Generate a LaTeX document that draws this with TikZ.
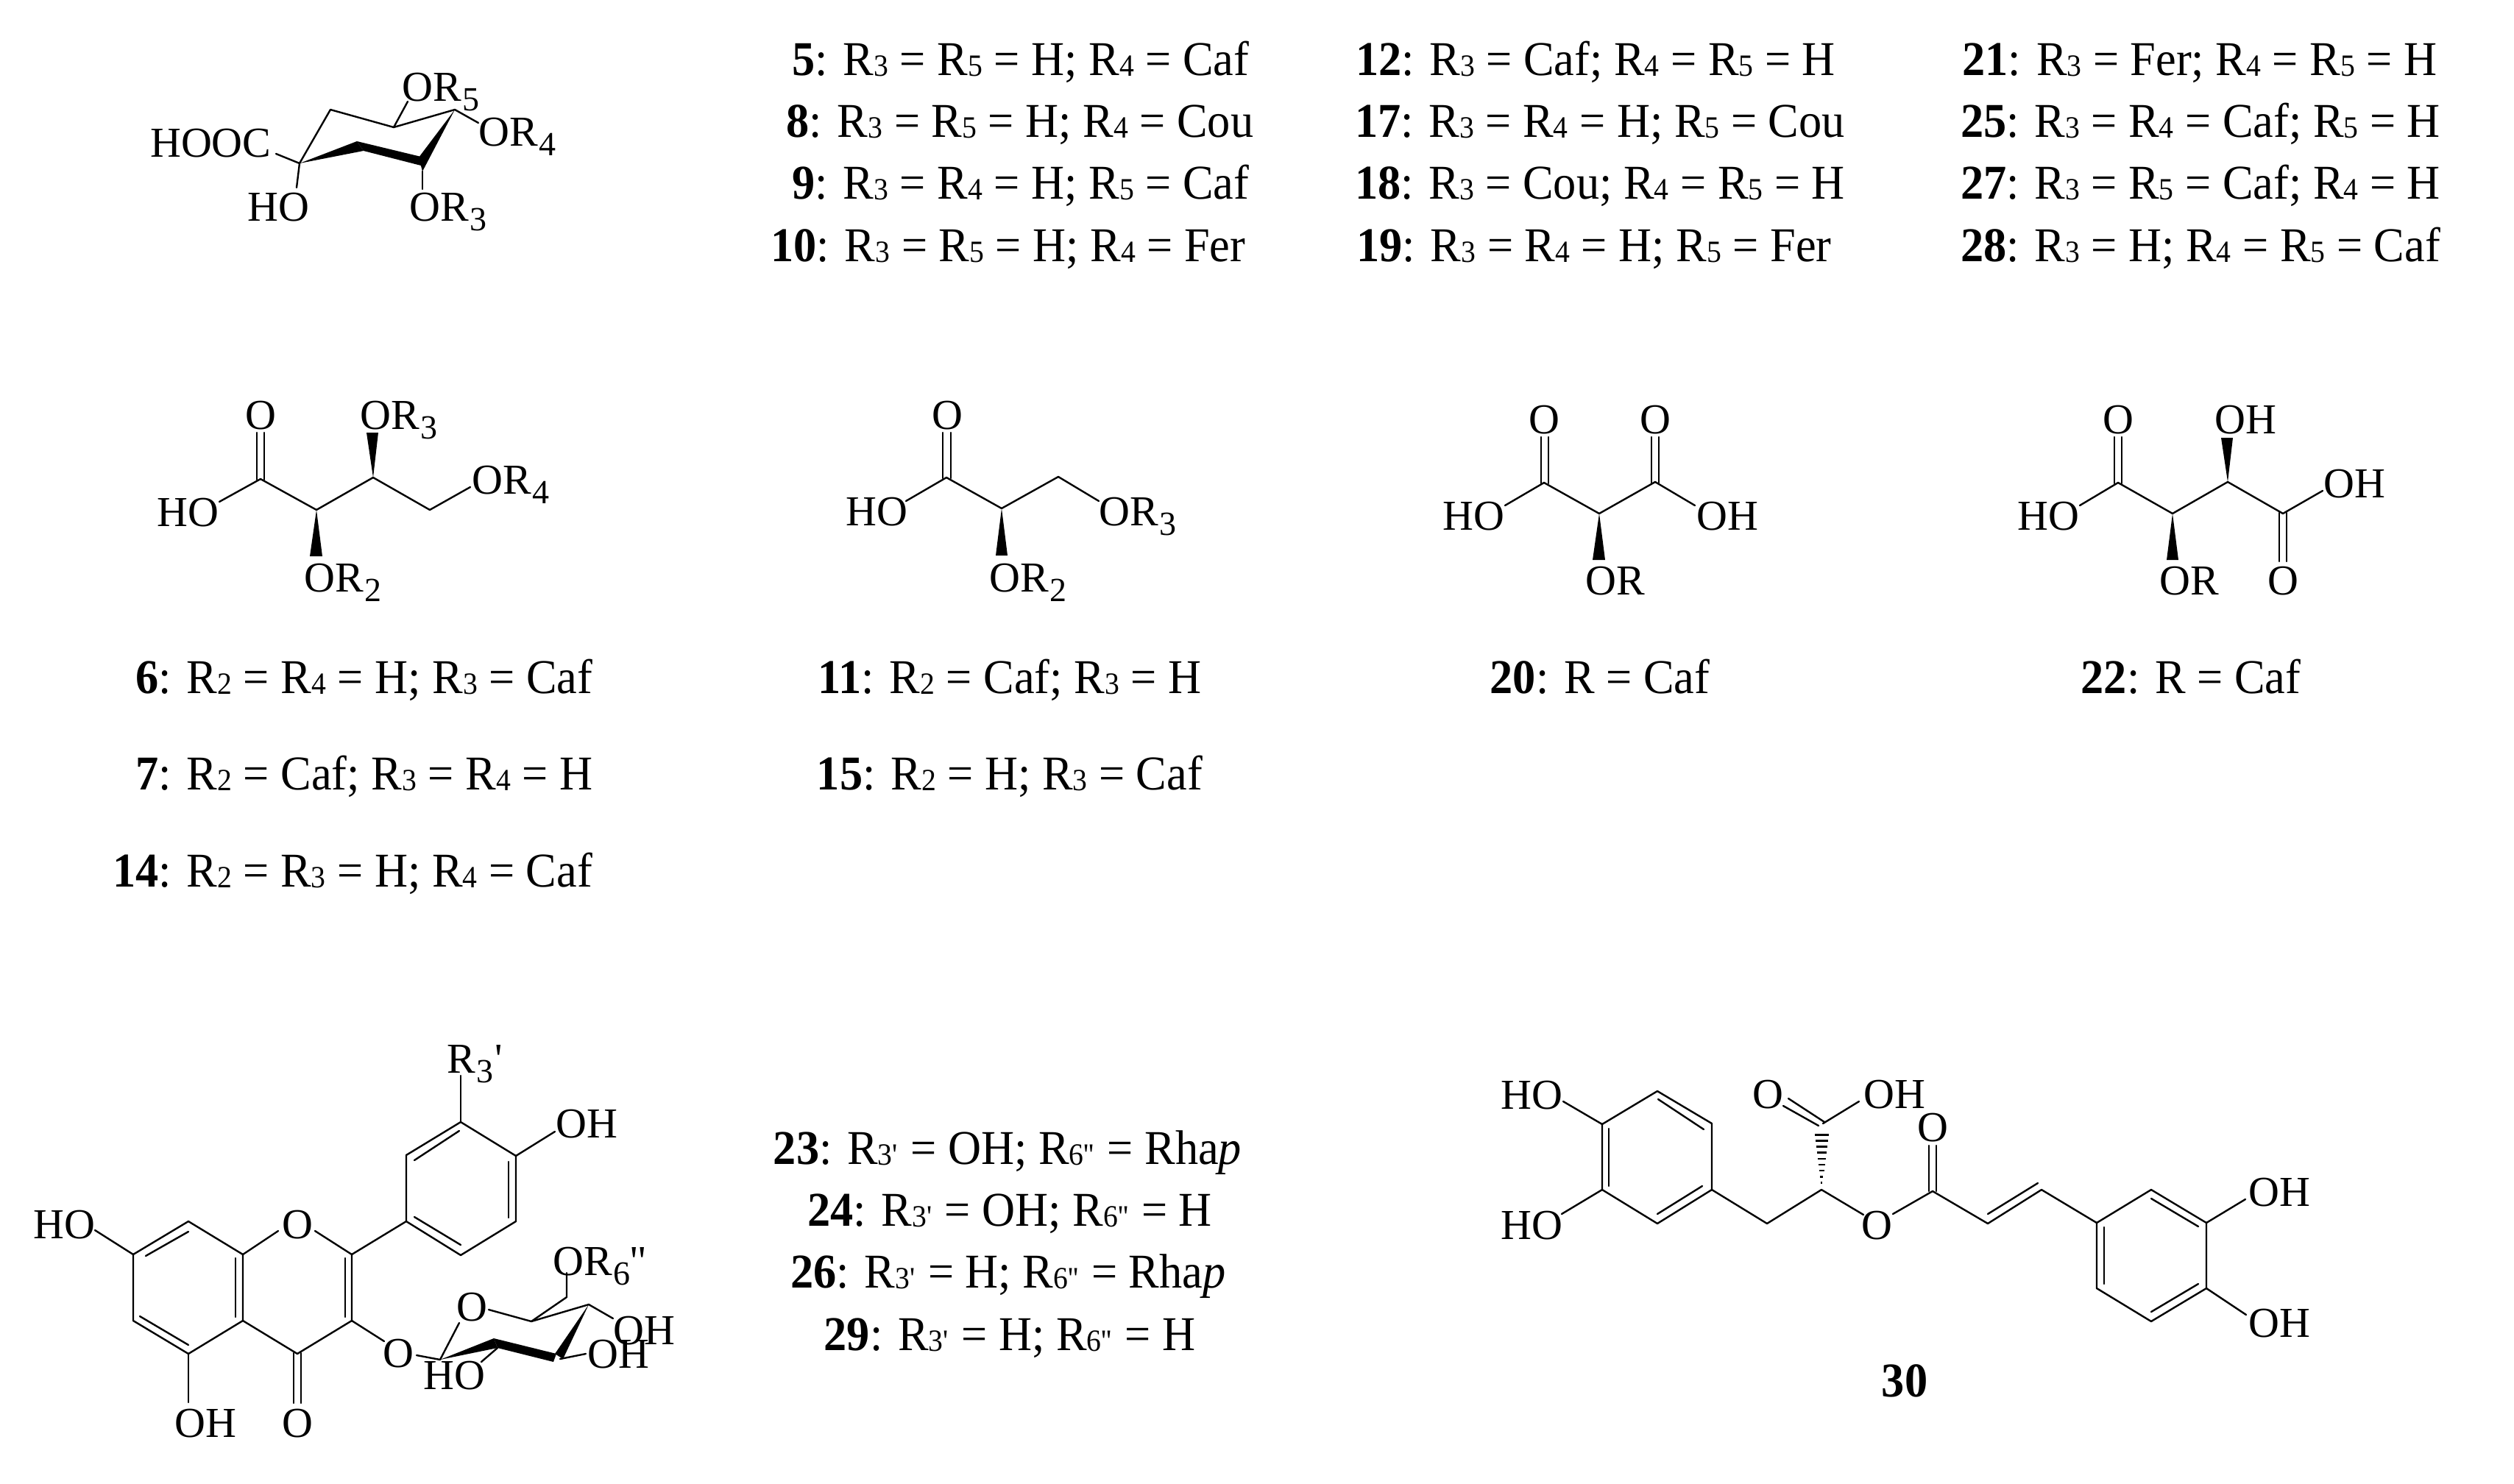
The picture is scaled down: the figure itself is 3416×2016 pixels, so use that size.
\documentclass[tikz,border=0pt]{standalone}
\usepackage{fontspec}
\usetikzlibrary{calc}
\newfontfamily\chemfont{Liberation Serif}
\newfontfamily\rowfont[FakeStretch=0.945]{Liberation Serif}
\newcommand{\cs}[1]{\kern2pt\raisebox{-13pt}{\fontsize{46}{46}\selectfont #1}} % subscript in a structure
\newcommand{\rr}[1]{R\raisebox{-1pt}{\fontsize{42}{42}\selectfont #1}} % R with its small index in a row
\tikzset{
x=1pt, y=-1pt, % one unit is one pixel of the reference
bond/.style={line width=2.4pt, line cap=round, line join=round}, % a plain bond
wedge/.style={fill=black, draw=none}, % a solid wedge bond
atom/.style={inner sep=0pt, anchor=base west, font=\chemfont\fontsize{58}{60}\selectfont}, % atom label from its left edge
atomc/.style={atom, anchor=base}, % atom label centred on the bond
row/.style={inner sep=0pt, anchor=base, font=\rowfont\fontsize{66}{70}\selectfont}, % one line of substituents
}
\begin{document}
\begin{tikzpicture}
    \useasboundingbox (0,0) rectangle (3416,2016);

    % quinic acid
    \foreach \n/\x/\y in {q1/407/222, q2/449/149, q3/535/173, q4/618/149, q5/485/192, q6/494/205,
        q7/572/213, q8/572/225, q9/569/214, q10/574/233, qa/375/209, qb/403/255, qc/554/138, qd/650/167, qe/574/257}
        \coordinate (\n) at (\x,\y);
    \draw[bond] (qa) -- (q1) -- (q2) -- (q3) -- (q4) -- (qd);
    \draw[bond] (q1) -- (qb);
    \draw[bond] (q3) -- (qc);
    \draw[bond] (q10) -- (qe);
    \fill[wedge] (q1) -- (q5) -- (q6) -- cycle;
    \fill[wedge] (q5) -- (q6) -- (q8) -- (q7) -- cycle;
    \fill[wedge] (q4) -- (q9) -- (q10) -- cycle;
    \node[atom] (qhooc) at (204,213) {HOOC};
    \node[atom] (qho) at (336,300) {HO};
    \node[atom] (qor5) at (546,137) {OR\cs{5}};
    \node[atom] (qor4) at (650,198) {OR\cs{4}};
    \node[atom] (qor3) at (556,300) {OR\cs{3}};

    % tetraric chain
    \foreach \n/\x/\y in {b1/354/651, b2/430/693, b3/507/649, b4/584/693, ba/298/682, bb/349/652, bc/359/652,
        bd/349/588, be/359/588, bf/421/756, bg/438/756, bh/498/588, bi/514/588, bj/639/662}
        \coordinate (\n) at (\x,\y);
    \draw[bond] (ba) -- (b1) -- (b2) -- (b3) -- (b4) -- (bj);
    \draw[bond] (bb) -- (bd);
    \draw[bond] (bc) -- (be);
    \fill[wedge] (b2) -- (bf) -- (bg) -- cycle;
    \fill[wedge] (b3) -- (bh) -- (bi) -- cycle;
    \node[atomc] (bo) at (354,583) {O};
    \node[atom] (bho) at (213,715) {HO};
    \node[atom] (bor3) at (489,583) {OR\cs{3}};
    \node[atom] (bor4) at (641,671) {OR\cs{4}};
    \node[atom] (bor2) at (413,804) {OR\cs{2}};

    % glyceric chain
    \foreach \n/\x/\y in {c1/1286/649, c2/1361/691, c3/1438/648, ca/1231/681, cb/1493/681, cc/1281/650, cd/1292/650,
        ce/1281/588, cf/1292/588, cg/1353/755, ch/1369/755}
        \coordinate (\n) at (\x,\y);
    \draw[bond] (ca) -- (c1) -- (c2) -- (c3) -- (cb);
    \draw[bond] (cc) -- (ce);
    \draw[bond] (cd) -- (cf);
    \fill[wedge] (c2) -- (cg) -- (ch) -- cycle;
    \node[atomc] (co) at (1287,583) {O};
    \node[atom] (cho) at (1149,714) {HO};
    \node[atom] (cor3) at (1493,714) {OR\cs{3}};
    \node[atom] (cor2) at (1344,804) {OR\cs{2}};

    % tartronic ester
    \foreach \n/\x/\y in {d1/2098/656, d2/2173/698, d3/2249/655, da/2045/687, db/2303/687, dc/2094/657, dd/2104/657,
        de/2094/594, df/2104/594, dg/2244/656, dh/2254/656, di/2244/594, dj/2254/594, dk/2164/761, dl/2181/761}
        \coordinate (\n) at (\x,\y);
    \draw[bond] (da) -- (d1) -- (d2) -- (d3) -- (db);
    \draw[bond] (dc) -- (de);
    \draw[bond] (dd) -- (df);
    \draw[bond] (dg) -- (di);
    \draw[bond] (dh) -- (dj);
    \fill[wedge] (d2) -- (dk) -- (dl) -- cycle;
    \node[atomc] (do1) at (2098,589) {O};
    \node[atomc] (do2) at (2249,589) {O};
    \node[atom] (dho) at (1960,720) {HO};
    \node[atom] (doh) at (2305,720) {OH};
    \node[atom] (dor) at (2154,808) {OR};

    % tartaric ester
    \foreach \n/\x/\y in {e1/2878/656, e2/2952/698, e3/3027/655, e4/3102/698, ea/2826/687, eb/3156/667,
        ec/2873/657, ed/2883/657, ee/2873/594, ef/2883/594, eg/3097/697, eh/3107/697, ei/3097/763, ej/3107/763,
        ek/2944/761, el/2960/761, em/3018/595, en/3034/595}
        \coordinate (\n) at (\x,\y);
    \draw[bond] (ea) -- (e1) -- (e2) -- (e3) -- (e4) -- (eb);
    \draw[bond] (ec) -- (ee);
    \draw[bond] (ed) -- (ef);
    \draw[bond] (eg) -- (ei);
    \draw[bond] (eh) -- (ej);
    \fill[wedge] (e2) -- (ek) -- (el) -- cycle;
    \fill[wedge] (e3) -- (em) -- (en) -- cycle;
    \node[atomc] (eo1) at (2878,589) {O};
    \node[atom] (eoh1) at (3009,589) {OH};
    \node[atom] (eoh2) at (3157,676) {OH};
    \node[atom] (eho) at (2741,720) {HO};
    \node[atom] (eor) at (2934,808) {OR};
    \node[atomc] (eo2) at (3102,808) {O};

    % flavonol skeleton
    \foreach \n/\x/\y in {f7/181/1705, f8/256/1660, f9/330/1705, f10/330/1795, f5/256/1840, f6/181/1795,
        f1l/378/1673, f1r/428/1673, f2/478/1705, f3/478/1795, f4/404/1840,
        g1/552/1660, g2/552/1570, g3/626/1525, g4/701/1571, g5/701/1660, g6/626/1706,
        fa/626/1462, fb/754/1538, fc/129/1672, fd/256/1906, fe/399/1839, ff/409/1839, fg/399/1907, fh/409/1907, fi/522/1823,
        ia/198/1707, ib/256/1674, ic/190/1789, id/256/1828, ie/320/1710, if/320/1790, ig/469/1710, ih/469/1790,
        ii/563/1577, ij/624/1537, ik/691/1579, il/691/1655, im/563/1654, in/626/1692}
        \coordinate (\n) at (\x,\y);
    \draw[bond] (f7) -- (f8) -- (f9) -- (f10) -- (f5) -- (f6) -- (f7);
    \draw[bond] (f9) -- (f1l);
    \draw[bond] (f1r) -- (f2) -- (f3) -- (f4) -- (f10);
    \draw[bond] (f2) -- (g1) -- (g2) -- (g3) -- (g4) -- (g5) -- (g6) -- (g1);
    \draw[bond] (g3) -- (fa);
    \draw[bond] (g4) -- (fb);
    \draw[bond] (f7) -- (fc);
    \draw[bond] (f5) -- (fd);
    \draw[bond] (fe) -- (fg);
    \draw[bond] (ff) -- (fh);
    \draw[bond] (f3) -- (fi);
    \foreach \s/\t in {ia/ib, ic/id, ie/if, ig/ih, ii/ij, ik/il, im/in}
        \draw[bond] (\s) -- (\t);
    \node[atom] (fr3) at (607,1458) {R\cs{3}\kern2pt'};
    \node[atom] (foh4) at (755,1546) {OH};
    \node[atom] (fho7) at (45,1683) {HO};
    \node[atomc] (fo1) at (404,1683) {O};
    \node[atom] (foh5) at (237,1953) {OH};
    \node[atomc] (fo4) at (404,1953) {O};
    \node[atomc] (fo3) at (541,1858) {O};

    % sugar
    \foreach \n/\x/\y in {s1/598/1848, sa/566/1842, s2/624/1798, s3/671/1819, s4/676/1832, s5/756/1840, s6/752/1851,
        s7/754/1840, s8/765/1847, s9/800/1773, s10/664/1780, s11/722/1796, s12/770/1763, s13/770/1730,
        s14/833/1792, s15/761/1847, s16/796/1840, s17/654/1851}
        \coordinate (\n) at (\x,\y);
    \draw[bond] (sa) -- (s1) -- (s2);
    \draw[bond] (s10) -- (s11) -- (s9) -- (s14);
    \draw[bond] (s11) -- (s12) -- (s13);
    \draw[bond] (s15) -- (s16);
    \draw[bond] (s4) -- (s17);
    \fill[wedge] (s1) -- (s3) -- (s4) -- cycle;
    \fill[wedge] (s3) -- (s4) -- (s6) -- (s5) -- cycle;
    \fill[wedge] (s9) -- (s7) -- (s8) -- cycle;
    \node[atomc] (so) at (641,1795) {O};
    \node[atom] (sho) at (575,1888) {HO};
    \node[atom] (soh2) at (798,1859) {OH};
    \node[atom] (soh3) at (833,1827) {OH};
    \node[atom] (sor) at (751,1733) {OR\cs{6}''};

    % rosmarinic acid
    \foreach \n/\x/\y in {r1/2252/1483, r2/2326/1527, r3/2326/1617, r4/2252/1663, r5/2177/1617, r6/2177/1528,
        r7/2401/1663, r8/2475/1617, r9/2626/1619, r10/2701/1663, r11/2774/1617,
        t1/2849/1662, t2/2923/1617, t3/2998/1662, t4/2998/1751, t5/2923/1796, t6/2849/1751,
        ra/2124/1497, rb/2122/1650, rc/2532/1651, rd/2572/1650, re/2621/1619, rf/2631/1619, rg/2621/1557, rh/2631/1557,
        ri/3051/1630, rj/3052/1787, rk/2477/1527, rl/2526/1497, rm/2423/1503, rn/2471/1530, ro/2430/1493, rp/2479/1525,
        rq/2465/1536, rr/2486/1536,
        ua/2253/1494, ub/2315/1535, uc/2186/1534, ud/2186/1612, ue/2252/1650, uf/2313/1612, ug/2701/1650, uh/2769/1608,
        ui/2923/1629, uj/2987/1667, uk/2987/1745, ul/2923/1783, um/2859/1745, un/2859/1668}
        \coordinate (\n) at (\x,\y);
    \draw[bond] (r1) -- (r2) -- (r3) -- (r4) -- (r5) -- (r6) -- (r1);
    \draw[bond] (r6) -- (ra);
    \draw[bond] (r5) -- (rb);
    \draw[bond] (r3) -- (r7) -- (r8) -- (rc);
    \draw[bond] (rd) -- (r9) -- (r10) -- (r11) -- (t1);
    \draw[bond] (re) -- (rg);
    \draw[bond] (rf) -- (rh);
    \draw[bond] (t1) -- (t2) -- (t3) -- (t4) -- (t5) -- (t6) -- (t1);
    \draw[bond] (t3) -- (ri);
    \draw[bond] (t4) -- (rj);
    \draw[bond] (rk) -- (rl);
    \draw[bond] (rm) -- (rn);
    \draw[bond] (ro) -- (rp);
    \foreach \t in {0.12,0.22,...,1.02}
        \draw[line width=2.6pt] ($(r8)!\t!(rq)$) -- ($(r8)!\t!(rr)$);
    \foreach \s/\t in {ua/ub, uc/ud, ue/uf, ug/uh, ui/uj, uk/ul, um/un}
        \draw[bond] (\s) -- (\t);
    \node[atom] (rho1) at (2039,1507) {HO};
    \node[atom] (rho2) at (2039,1684) {HO};
    \node[atomc] (ro1) at (2402,1506) {O};
    \node[atom] (roh1) at (2532,1506) {OH};
    \node[atomc] (ro2) at (2626,1551) {O};
    \node[atomc] (ro3) at (2550,1684) {O};
    \node[atom] (roh2) at (3055,1639) {OH};
    \node[atom] (roh3) at (3055,1817) {OH};
    \node[row] (n30) at (2588,1898) {\textbf{30}};

    % substituent rows, top block
    \node[row] (n5) at (1387,102) {\textbf{5}: \rr{3} = \rr{5} = H; \rr{4} = Caf};
    \node[row] (n8) at (1386,186) {\textbf{8}: \rr{3} = \rr{5} = H; \rr{4} = Cou};
    \node[row] (n9) at (1387,270) {\textbf{9}: \rr{3} = \rr{4} = H; \rr{5} = Caf};
    \node[row] (n10) at (1370,355) {\textbf{10}: \rr{3} = \rr{5} = H; \rr{4} = Fer};
    \node[row] (n12) at (2168,102) {\textbf{12}: \rr{3} = Caf; \rr{4} = \rr{5} = H};
    \node[row] (n17) at (2174,186) {\textbf{17}: \rr{3} = \rr{4} = H; \rr{5} = Cou};
    \node[row] (n18) at (2174,270) {\textbf{18}: \rr{3} = Cou; \rr{4} = \rr{5} = H};
    \node[row] (n19) at (2166,355) {\textbf{19}: \rr{3} = \rr{4} = H; \rr{5} = Fer};
    \node[row] (n21) at (2989,102) {\textbf{21}: \rr{3} = Fer; \rr{4} = \rr{5} = H};
    \node[row] (n25) at (2990,186) {\textbf{25}: \rr{3} = \rr{4} = Caf; \rr{5} = H};
    \node[row] (n27) at (2990,270) {\textbf{27}: \rr{3} = \rr{5} = Caf; \rr{4} = H};
    \node[row] (n28) at (2990,355) {\textbf{28}: \rr{3} = H; \rr{4} = \rr{5} = Caf};

    % substituent rows, middle block
    \node[row] (n6) at (495,942) {\textbf{6}: \rr{2} = \rr{4} = H; \rr{3} = Caf};
    \node[row] (n7) at (495,1073) {\textbf{7}: \rr{2} = Caf; \rr{3} = \rr{4} = H};
    \node[row] (n14) at (479,1205) {\textbf{14}: \rr{2} = \rr{3} = H; \rr{4} = Caf};
    \node[row] (n11) at (1372,942) {\textbf{11}: \rr{2} = Caf; \rr{3} = H};
    \node[row] (n15) at (1372,1073) {\textbf{15}: \rr{2} = H; \rr{3} = Caf};
    \node[row] (n20) at (2174,942) {\textbf{20}: R = Caf};
    \node[row] (n22) at (2977,942) {\textbf{22}: R = Caf};

    % substituent rows, bottom block
    \node[row] (n23) at (1369,1582) {\textbf{23}: \rr{3'\kern2pt} = OH; \rr{6''\kern2pt} = Rha\textit{p}};
    \node[row] (n24) at (1372,1666) {\textbf{24}: \rr{3'\kern2pt} = OH; \rr{6''\kern2pt} = H};
    \node[row] (n26) at (1370,1750) {\textbf{26}: \rr{3'\kern2pt} = H; \rr{6''\kern2pt} = Rha\textit{p}};
    \node[row] (n29) at (1372,1835) {\textbf{29}: \rr{3'\kern2pt} = H; \rr{6''\kern2pt} = H};
\end{tikzpicture}
\end{document}
